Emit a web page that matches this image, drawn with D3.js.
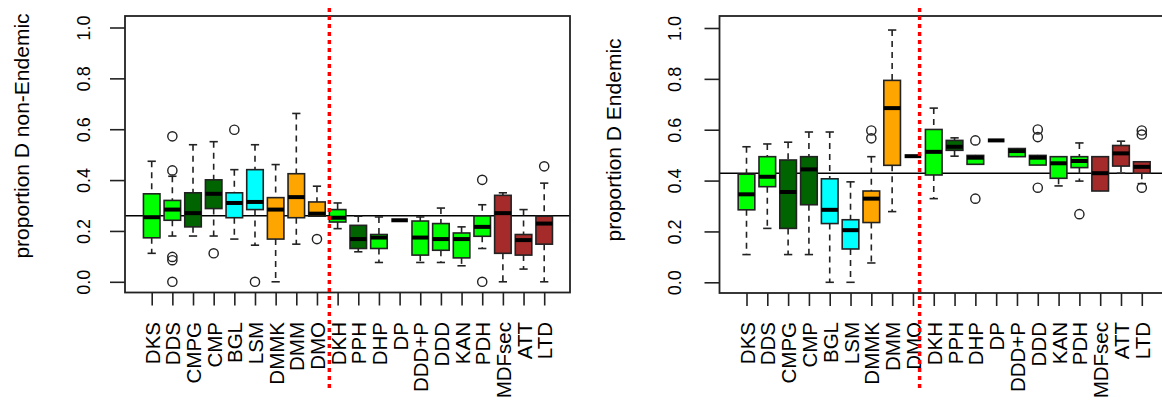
<!DOCTYPE html>
<html><head><meta charset="utf-8">
<script src="https://cdn.jsdelivr.net/npm/d3@7"></script>
<style>body{margin:0;background:#fff;} text{font-family:"Liberation Sans",Arial,sans-serif;fill:#000;}</style>
</head><body>
<svg id="c" width="1162" height="405"></svg>
<script>
const categories = ["DKS","DDS","CMPG","CMP","BGL","LSM","DMMK","DMM","DMO","DKH","PPH","DHP","DP","DDD+P","DDD","KAN","PDH","MDFsec","ATT","LTD"];
const groupColors = ["#00FF00","#00FF00","#006400","#006400","#00FFFF","#00FFFF","#FFA500","#FFA500","#FFA500","#00FF00","#006400","#00FF00","#00FF00","#00FF00","#00FF00","#00FF00","#00FF00","#A52A2A","#A52A2A","#A52A2A"];
const yTicks = [0.0,0.2,0.4,0.6,0.8,1.0];

// Left panel: proportion D non-Endemic
const leftWhiskLo = [0.112,0.180,0.180,0.180,0.168,0.144,0.000,0.148,0.258,0.209,0.118,0.076,0.242,0.076,0.076,0.063,0.131,0.000,0.050,0.000];
const leftQ1      = [0.173,0.242,0.216,0.288,0.252,0.284,0.168,0.252,0.258,0.235,0.131,0.131,0.242,0.105,0.124,0.094,0.179,0.112,0.105,0.148];
const leftMed     = [0.254,0.284,0.270,0.346,0.310,0.314,0.284,0.333,0.268,0.252,0.168,0.174,0.242,0.174,0.168,0.168,0.216,0.270,0.164,0.229];
const leftQ3      = [0.346,0.320,0.350,0.401,0.350,0.441,0.331,0.425,0.314,0.284,0.222,0.186,0.242,0.239,0.229,0.192,0.259,0.340,0.186,0.258];
const leftWhiskHi = [0.474,0.415,0.539,0.551,0.441,0.539,0.461,0.662,0.376,0.310,0.258,0.255,0.242,0.255,0.290,0.216,0.303,0.350,0.284,0.388];
const leftOutliers = [[],[0.572,0.438,0.098,0.085,0.0],[],[0.112],[0.598],[0.0],[],[],[0.168],[],[],[],[],[],[],[],[0.401,0.0],[],[],[0.454]];
const leftRefLine = 0.26;
const leftSplit = 9.6;

// Right panel: proportion D Endemic
const rightWhiskLo = [0.109,0.212,0.109,0.109,0.000,0.000,0.076,0.278,0.496,0.329,0.496,0.464,0.558,0.494,0.461,0.379,0.398,0.359,0.429,0.388];
const rightQ1      = [0.285,0.376,0.212,0.305,0.231,0.131,0.235,0.460,0.496,0.422,0.519,0.464,0.558,0.494,0.461,0.409,0.451,0.359,0.457,0.429];
const rightMed     = [0.346,0.415,0.355,0.444,0.285,0.205,0.329,0.685,0.496,0.513,0.533,0.490,0.558,0.516,0.490,0.468,0.477,0.429,0.507,0.454];
const rightQ3      = [0.425,0.494,0.481,0.494,0.407,0.246,0.359,0.794,0.496,0.601,0.558,0.499,0.558,0.526,0.499,0.494,0.494,0.494,0.538,0.474];
const rightWhiskHi = [0.533,0.544,0.551,0.591,0.591,0.395,0.494,0.992,0.496,0.685,0.568,0.499,0.558,0.526,0.499,0.494,0.548,0.494,0.555,0.474];
const rightOutliers = [[],[],[],[],[],[],[0.597,0.566],[],[],[],[],[0.558,0.329],[],[],[0.601,0.571,0.372],[],[0.268],[],[],[0.597,0.581,0.372]];
const rightRefLine = 0.429;
const rightSplit = 9.32;

const svg = d3.select("#c");

function panel(cfg) {
  const g = svg.append("g");
  const x = d3.scaleLinear().domain([1, 20]).range([cfg.x1, cfg.x20]);
  const y = d3.scaleLinear().domain([0, 1]).range([cfg.y0, cfg.y1]);
  const step = x(2) - x(1);
  const bw = step * 0.8;
  const data = categories.map((c, i) => ({
    c, i: i + 1, col: groupColors[i],
    lo: cfg.lo[i], q1: cfg.q1[i], med: cfg.med[i], q3: cfg.q3[i], hi: cfg.hi[i], out: cfg.out[i]
  }));

  // reference line
  g.append("line").attr("x1", cfg.left).attr("x2", cfg.right)
    .attr("y1", y(cfg.ref)).attr("y2", y(cfg.ref))
    .attr("stroke", "#000").attr("stroke-width", 1.5);

  const b = g.selectAll("g.box").data(data).join("g").attr("class", "box");
  // whiskers dashed
  b.append("line").attr("x1", d => x(d.i)).attr("x2", d => x(d.i))
    .attr("y1", d => y(d.hi)).attr("y2", d => y(d.q3))
    .attr("stroke", "#222").attr("stroke-width", 1.6).attr("stroke-dasharray", "6,5");
  b.append("line").attr("x1", d => x(d.i)).attr("x2", d => x(d.i))
    .attr("y1", d => y(d.q1)).attr("y2", d => y(d.lo))
    .attr("stroke", "#222").attr("stroke-width", 1.6).attr("stroke-dasharray", "6,5");
  // staples
  b.filter(d => d.hi > d.q3).append("line").attr("x1", d => x(d.i) - bw / 4).attr("x2", d => x(d.i) + bw / 4)
    .attr("y1", d => y(d.hi)).attr("y2", d => y(d.hi)).attr("stroke", "#222").attr("stroke-width", 1.6);
  b.filter(d => d.lo < d.q1).append("line").attr("x1", d => x(d.i) - bw / 4).attr("x2", d => x(d.i) + bw / 4)
    .attr("y1", d => y(d.lo)).attr("y2", d => y(d.lo)).attr("stroke", "#222").attr("stroke-width", 1.6);
  // boxes
  b.append("rect").attr("x", d => x(d.i) - bw / 2).attr("width", bw)
    .attr("y", d => y(d.q3)).attr("height", d => Math.max(0, y(d.q1) - y(d.q3)))
    .attr("fill", d => d.col).attr("stroke", "#222").attr("stroke-width", 1.6);
  // medians
  b.append("line").attr("x1", d => x(d.i) - bw / 2).attr("x2", d => x(d.i) + bw / 2)
    .attr("y1", d => y(d.med)).attr("y2", d => y(d.med))
    .attr("stroke", "#000").attr("stroke-width", 4);
  // outliers
  b.selectAll("circle").data(d => d.out.map(v => ({ i: d.i, v }))).join("circle")
    .attr("cx", d => x(d.i)).attr("cy", d => y(d.v)).attr("r", 4.6)
    .attr("fill", "none").attr("stroke", "#222").attr("stroke-width", 1.4);

  // frame
  g.append("rect").attr("x", cfg.left).attr("y", cfg.top)
    .attr("width", cfg.right - cfg.left).attr("height", cfg.bottom - cfg.top)
    .attr("fill", "none").attr("stroke", "#222").attr("stroke-width", 1.8);

  // y axis
  const ya = g.append("g").attr("transform", `translate(${cfg.left},0)`)
    .call(d3.axisLeft(y).tickValues(yTicks).tickSize(15).tickFormat(d3.format(".1f")));
  ya.select(".domain").remove();
  ya.selectAll(".tick line").attr("stroke", "#222").attr("stroke-width", 1.6);
  ya.selectAll(".tick text").attr("x", null).attr("dy", null)
    .attr("transform", `translate(${cfg.tickLabX - cfg.left},0) rotate(-90)`)
    .attr("text-anchor", "middle").attr("font-size", 18).style("font-family", '"Liberation Sans",Arial,sans-serif');

  // x axis
  const xa = g.append("g").attr("transform", `translate(0,${cfg.bottom})`)
    .call(d3.axisBottom(x).tickValues(d3.range(1, 21)).tickSize(13).tickFormat(i => categories[i - 1]));
  xa.select(".domain").remove();
  xa.selectAll(".tick line").attr("stroke", "#222").attr("stroke-width", 1.6);
  xa.selectAll(".tick text").attr("y", null).attr("dy", null)
    .attr("transform", `translate(7.5,${322 - cfg.bottom}) rotate(-90)`)
    .attr("text-anchor", "end").attr("font-size", 20.5).style("font-family", '"Liberation Sans",Arial,sans-serif');

  // y title
  g.append("text").attr("transform", `translate(${cfg.titleX},${cfg.titleY}) rotate(-90)`)
    .attr("text-anchor", "middle").attr("font-size", 21).text(cfg.title);

  // red dotted separator
  g.append("line").attr("x1", x(cfg.split)).attr("x2", x(cfg.split)).attr("y1", 8).attr("y2", 388)
    .attr("stroke", "#FF0000").attr("stroke-width", 3.5).attr("stroke-dasharray", "4,4");
}

panel({
  left: 125, right: 570, top: 16, bottom: 292.5, x1: 151.7, x20: 544.2, y0: 281.8, y1: 27.5,
  lo: leftWhiskLo, q1: leftQ1, med: leftMed, q3: leftQ3, hi: leftWhiskHi, out: leftOutliers,
  ref: leftRefLine, split: leftSplit, tickLabX: 89.5, titleX: 29, titleY: 136,
  title: "proportion D non-Endemic"
});
panel({
  left: 719.5, right: 1175, top: 16, bottom: 293, x1: 746.5, x20: 1141.8, y0: 282.3, y1: 28,
  lo: rightWhiskLo, q1: rightQ1, med: rightMed, q3: rightQ3, hi: rightWhiskHi, out: rightOutliers,
  ref: rightRefLine, split: rightSplit, tickLabX: 681, titleX: 621, titleY: 140,
  title: "proportion D Endemic"
});
</script>
</body></html>
